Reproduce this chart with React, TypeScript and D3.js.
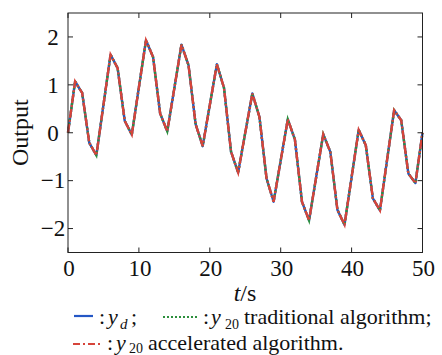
import React from "react";
import * as d3 from "d3";

const times: number[] = d3.range(0, 51);
const ydValues: number[] = [
  0, 1.07, 0.83, -0.21, -0.47, 0.58, 1.63, 1.35, 0.25, -0.04,
  0.95, 1.93, 1.58, 0.4, 0.03, 0.93, 1.84, 1.41, 0.18, -0.28,
  0.58, 1.43, 0.94, -0.4, -0.83, 0.0, 0.82, 0.33, -0.95, -1.44,
  -0.58, 0.28, -0.14, -1.44, -1.83, -0.93, -0.03, -0.4, -1.61, -1.92,
  -0.93, 0.06, -0.26, -1.37, -1.62, -0.57, 0.47, 0.26, -0.85, -1.05,
  0.0,
];
const y20Traditional: number[] = ydValues.slice();
const y20Accelerated: number[] = ydValues.slice();
const xTicks: number[] = [0, 10, 20, 30, 40, 50];
const yTicks: number[] = [-2, -1, 0, 1, 2];

const W = 442;
const H = 355;
const L = 68, R = 422.5, T = 13, B = 252.5;
const FONT = '"Liberation Serif", serif';
const BLUE = "#2457c5";
const GREEN = "#2c8f3c";
const RED = "#d6443a";

const ts = (size: number, italic = false): React.CSSProperties => ({
  fontFamily: FONT,
  fontSize: size + "px",
  fontStyle: italic ? "italic" : "normal",
});

export default function App() {
  const x = d3.scaleLinear().domain([0, 50]).range([L, R]);
  const y = d3.scaleLinear().domain([-2.5, 2.5]).range([B, T]);
  const mk = (vals: number[]) =>
    d3.line<number>().x((_, i) => x(times[i])).y((d) => y(d))(vals) || "";
  const tl = 5;
  const fmt = (v: number) => (v < 0 ? "\u2212" + Math.abs(v) : String(v));
  return (
    <svg
      width={W}
      height={H}
      style={{ position: "absolute", left: 0, top: 0, background: "#fff", fontFamily: FONT }}
    >
      <rect x={0} y={0} width={W} height={H} fill="#fff" />
      <path d={mk(ydValues)} fill="none" stroke={BLUE} strokeWidth={2.4} strokeLinejoin="round" />
      <path d={mk(y20Traditional)} fill="none" stroke={GREEN} strokeWidth={2.4} strokeDasharray="2,2" />
      <path d={mk(y20Accelerated)} fill="none" stroke={RED} strokeWidth={2.4} strokeDasharray="9,2,2,2" />
      <rect x={L} y={T} width={R - L} height={B - T} fill="none" stroke="#222" strokeWidth={1} />
      {xTicks.map((t) => (
        <g key={"x" + t}>
          <line x1={x(t)} x2={x(t)} y1={B} y2={B - tl} stroke="#222" />
          <line x1={x(t)} x2={x(t)} y1={T} y2={T + tl} stroke="#222" />
          <text x={x(t) + 1} y={276} style={ts(23)} textAnchor="middle" fill="#111">
            {t}
          </text>
        </g>
      ))}
      {yTicks.map((v) => (
        <g key={"y" + v}>
          <line x1={L} x2={L + tl} y1={y(v)} y2={y(v)} stroke="#222" />
          <line x1={R} x2={R - tl} y1={y(v)} y2={y(v)} stroke="#222" />
          <text x={53} y={y(v)} dy="0.34em" style={ts(23)} textAnchor="middle" fill="#111">
            {fmt(v)}
          </text>
        </g>
      ))}
      <text x={245} y={301} style={ts(24)} textAnchor="middle" fill="#111">
        <tspan style={ts(24, true)}>t</tspan>/s
      </text>
      <text
        transform={`translate(28,${(T + B) / 2}) rotate(-90)`}
        style={ts(24)}
        textAnchor="middle"
        fill="#111"
      >
        Output
      </text>
      {/* legend row 1 */}
      <line x1={74} x2={93} y1={316} y2={316} stroke={BLUE} strokeWidth={2.2} />
      <text x={99} y={324} style={ts(22)} fill="#111">:</text>
      <text x={108} y={324} style={ts(22, true)} fill="#111">y</text>
      <text x={120} y={329} style={ts(15, true)} fill="#111">d</text>
      <text x={131} y={324} style={ts(22)} fill="#111">;</text>
      <line x1={163} x2={197} y1={317} y2={317} stroke={GREEN} strokeWidth={2.2} strokeDasharray="2,2" />
      <text x={203} y={324} style={ts(22)} fill="#111">:</text>
      <text x={211} y={324} style={ts(22, true)} fill="#111">y</text>
      <text x={225} y={329} style={ts(14)} fill="#111">20</text>
      <text x={244} y={324} style={ts(22)} fill="#111">traditional algorithm;</text>
      {/* legend row 2 */}
      <line x1={73} x2={103} y1={344} y2={344} stroke={RED} strokeWidth={2.2} strokeDasharray="7,3,2,3" />
      <text x={107} y={350} style={ts(22)} fill="#111">:</text>
      <text x={116} y={350} style={ts(22, true)} fill="#111">y</text>
      <text x={129} y={353} style={ts(14)} fill="#111">20</text>
      <text x={148} y={350} style={ts(22)} fill="#111">accelerated algorithm.</text>
    </svg>
  );
}
